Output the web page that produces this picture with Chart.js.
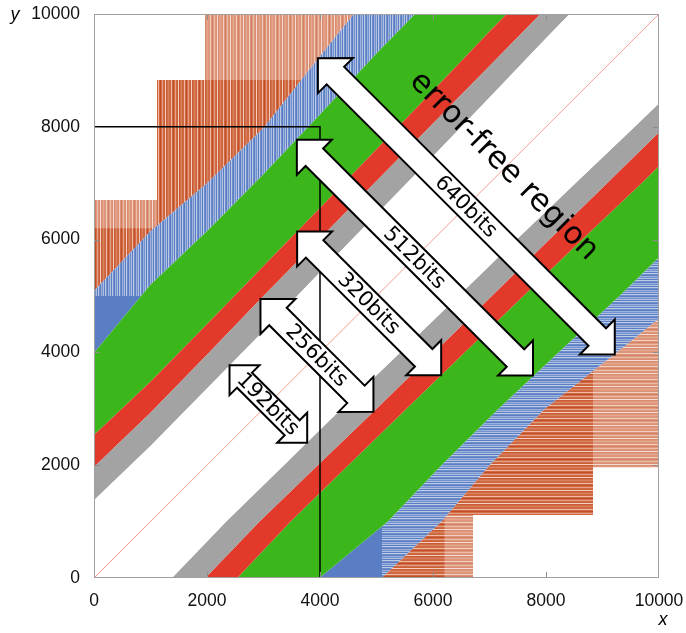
<!DOCTYPE html>
<html>
<head>
<meta charset="utf-8">
<script src="https://cdn.jsdelivr.net/npm/chart.js@4"></script>
<style>
  html, body { margin: 0; padding: 0; background: #fff; }
  #wrap { width: 686px; height: 633px; }
</style>
</head>
<body>
<div id="wrap"><canvas id="bitsChart" width="686" height="633"></canvas></div>
<script>
// positions along the diagonal where the band edges were read (first one sits off-chart so the fills reach the axes)
const tPos         = [-2000, 0, 1000, 2000, 3000, 4000, 5000, 6000, 7000, 8000, 9000, 10000];
// distance |y - x| of each band edge
const grayOffset   = [1380, 1380, 1340, 1360, 1380, 1420, 1450, 1480, 1520, 1570, 1600, 1620];
const redOffset    = [1970, 1970, 1930, 1960, 2000, 2020, 2040, 2060, 2080, 2100, 2120, 2140];
const greenOffset  = [2535, 2535, 2480, 2500, 2530, 2560, 2600, 2640, 2690, 2710, 2730, 2750];
const blueOffset   = [3990, 3990, 4200, 4150, 4160, 4220, 4300, 4320, 4340, 4360, 4380, 4400];
const orangeOffset = [5090, 5090, 5150, 5000, 4980, 5250, 5500, 5650, 5800, 5900, 6000, 6100];

// outer hatched area stops in steps
const stepEdge  = [0, 1115, 1965];
const stepTop   = [6700, 8830, 10000];
const paleFrom  = [6200, 8830];      // paler hatch above these (first and third step)
const stripeFrom = 5000;             // blue band is hatched past this
const stripeTo   = 9000;

// arrows: centre on the diagonal and total span
const arrowLabels = ['192bits', '256bits', '320bits', '512bits', '640bits'];
const arrowCenter = [3086, 3946, 4870, 5680, 6590];
const arrowSpan   = [1375, 2000, 2550, 4180, 5255];

const diagXY  = [0, 10000];
const markerX = [0, 4000, 4000];
const markerY = [8000, 8000, 0];

const xTicks = [0, 2000, 4000, 6000, 8000, 10000];

// hatch patterns
function stripes(colors, vertical) {
    const c = document.createElement('canvas');
    c.width = vertical ? colors.length : 1;
    c.height = vertical ? 1 : colors.length;
    const g = c.getContext('2d');
    colors.forEach((col, i) => {
        g.fillStyle = col;
        if (vertical) g.fillRect(i, 0, 1, 1); else g.fillRect(0, i, 1, 1);
    });
    return g.createPattern(c, 'repeat');
}
const orangeCols = ['#d06a42', '#cf6740', '#eeb9a4', '#cf6740', '#c24c25', '#d36f48', '#e3a084',
                    '#d06a42', '#cb5f37', '#f3cfc0', '#c95a33', '#d36f48', '#d8805c'];
const blueCols = ['rgba(255,255,255,0.6)', 'rgba(255,255,255,0.12)', 'rgba(0,0,0,0)', 'rgba(255,255,255,0.4)',
                  'rgba(255,255,255,0.15)', 'rgba(255,255,255,0.5)', 'rgba(0,0,0,0)'];
const vOrange = stripes(orangeCols, true);
const hOrange = stripes(orangeCols, false);
const vBlue = stripes(blueCols, true);
const hBlue = stripes(blueCols, false);

const GRAY = '#a3a3a3', RED = '#e2392a', GREEN = '#3bb71b', BLUE = '#5a7ec4';
const NONE = 'rgba(0,0,0,0)';

const upper = off => tPos.map((t, i) => ({ x: t, y: t + off[i] }));
const lower = off => tPos.map((t, i) => ({ x: t + off[i], y: t }));
const seg = (x0, x1, yv) => [{ x: x0, y: yv }, { x: x1, y: yv }];

const datasets = [];
function add(data, fill, color) {
    datasets.push({
        data: data, fill: fill, backgroundColor: color,
        borderColor: NONE, borderWidth: 0, pointRadius: 0,
        order: -datasets.length
    });
    return datasets.length - 1;
}

// bottom layer first
const upOrange = add(upper(orangeOffset), 'end', vOrange);
const loOrange = add(lower(orangeOffset), 'start', hOrange);
add(seg(stepEdge[0], stepEdge[1], paleFrom[0]), 'end', 'rgba(255,255,255,0.3)');
add(seg(stepEdge[2], 10000, paleFrom[1]), 'end', 'rgba(255,255,255,0.3)');
add(seg(paleFrom[0], stepTop[0], stepEdge[1]), 'start', 'rgba(255,255,255,0.3)');
add(seg(paleFrom[1], 10000, stepEdge[2]), 'end', 'rgba(255,255,255,0.3)');
add(seg(stepEdge[0], stepEdge[1], stepTop[0]), 'end', '#fff');
add(seg(stepEdge[1], stepEdge[2], stepTop[1]), 'end', '#fff');
add(seg(stepTop[0], 10000, stepEdge[1]), 'start', '#fff');
add(seg(stepTop[1], 10000, stepEdge[2]), 'start', '#fff');
const upBlue = add(upper(blueOffset), upOrange, BLUE);
add(upper(orangeOffset), { target: { value: stripeFrom }, above: vBlue, below: NONE }, vBlue);
const loBlue = add(lower(blueOffset), loOrange, BLUE);
add(lower(orangeOffset).filter(p => p.x >= stripeFrom),
    { target: { value: stripeTo }, above: NONE, below: hBlue }, hBlue);
const upGreen = add(upper(greenOffset), upBlue, GREEN);
const loGreen = add(lower(greenOffset), loBlue, GREEN);
const upRed = add(upper(redOffset), upGreen, RED);
const loRed = add(lower(redOffset), loGreen, RED);
add(upper(grayOffset), upRed, GRAY);
const loGray = add(lower(grayOffset), loRed, GRAY);
add(upper(grayOffset), loGray, '#fff');

datasets.push({
    data: diagXY.map(v => ({ x: v, y: v })), fill: false,
    borderColor: '#f4a08e', borderWidth: 1, pointRadius: 0, order: -datasets.length
});
datasets.push({
    data: markerX.map((v, i) => ({ x: v, y: markerY[i] })), fill: false,
    borderColor: '#000', borderWidth: 1.5, pointRadius: 0, order: -datasets.length
});

function drawArrow(ctx, x1, y1, x2, y2, leg, label) {
    const len = Math.hypot(x2 - x1, y2 - y1);
    const H = leg / Math.SQRT2, s = H / 2;
    ctx.save();
    ctx.translate(x1, y1);
    ctx.rotate(Math.atan2(y2 - y1, x2 - x1));
    ctx.beginPath();
    ctx.moveTo(0, 0);
    ctx.lineTo(H, -H); ctx.lineTo(H, -s); ctx.lineTo(len - H, -s); ctx.lineTo(len - H, -H);
    ctx.lineTo(len, 0);
    ctx.lineTo(len - H, H); ctx.lineTo(len - H, s); ctx.lineTo(H, s); ctx.lineTo(H, H);
    ctx.closePath();
    ctx.fillStyle = '#fff';
    ctx.fill();
    ctx.lineWidth = 2;
    ctx.lineJoin = 'miter';
    ctx.strokeStyle = '#000';
    ctx.stroke();
    ctx.fillStyle = '#000';
    ctx.font = '21px "DejaVu Sans"';
    ctx.textAlign = 'center';
    ctx.textBaseline = 'middle';
    ctx.fillText(label, len / 2, 1);
    ctx.restore();
}

const annotations = {
    id: 'annotations',
    afterDatasetsDraw(chart) {
        const { ctx, chartArea: a, scales: { x, y } } = chart;
        ctx.save();
        // inside tick marks
        ctx.strokeStyle = '#8c8c8c';
        ctx.lineWidth = 1;
        ctx.beginPath();
        xTicks.slice(1, -1).forEach(v => {
            const px = Math.round(x.getPixelForValue(v)) + 0.5;
            const py = Math.round(y.getPixelForValue(v)) + 0.5;
            ctx.moveTo(px, a.bottom); ctx.lineTo(px, a.bottom - 6);
            ctx.moveTo(px, a.top); ctx.lineTo(px, a.top + 6);
            ctx.moveTo(a.left, py); ctx.lineTo(a.left + 6, py);
            ctx.moveTo(a.right, py); ctx.lineTo(a.right - 6, py);
        });
        ctx.stroke();
        // frame
        ctx.strokeStyle = '#a0a0a0';
        ctx.strokeRect(a.left + 0.5, a.top + 0.5, a.right - a.left - 1, a.bottom - a.top - 1);

        arrowCenter.forEach((c, i) => {
            const h = arrowSpan[i] / 2;
            drawArrow(ctx,
                x.getPixelForValue(c - h), y.getPixelForValue(c + h),
                x.getPixelForValue(c + h), y.getPixelForValue(c - h),
                i === 0 ? 30 : 35, arrowLabels[i]);
        });

        // big label
        ctx.save();
        ctx.translate(x.getPixelForValue(7250), y.getPixelForValue(7300));
        ctx.rotate(Math.PI / 4);
        ctx.fillStyle = '#000';
        ctx.font = '31px "DejaVu Sans"';
        ctx.textAlign = 'center';
        ctx.textBaseline = 'middle';
        ctx.fillText('error-free region', 0, 0);
        ctx.restore();

        // axis letters
        ctx.fillStyle = '#000';
        ctx.font = 'italic 18px "Liberation Sans"';
        ctx.textAlign = 'center';
        ctx.textBaseline = 'middle';
        ctx.fillText('y', 15, 15);
        ctx.fillText('x', 663, 620);
        ctx.restore();
    }
};

const tickFont = { family: '"Liberation Sans", Arial, sans-serif', size: 17.5 };

new Chart(document.getElementById('bitsChart'), {
    type: 'line',
    data: { datasets: datasets },
    options: {
        responsive: false,
        animation: false,
        events: [],
        layout: { padding: { top: 14, right: 27, left: 0, bottom: 0 } },
        plugins: { legend: { display: false }, tooltip: { enabled: false } },
        scales: {
            x: {
                type: 'linear', min: 0, max: 10000,
                grid: { display: false, drawTicks: false },
                border: { display: false },
                ticks: { stepSize: 2000, autoSkip: false, maxRotation: 0, padding: 13,
                         color: '#111', font: tickFont, callback: v => String(v) },
                afterFit: s => { s.height = 55; s.paddingLeft = 0; s.paddingRight = 0; }
            },
            y: {
                type: 'linear', min: 0, max: 10000,
                grid: { display: false, drawTicks: false },
                border: { display: false },
                ticks: { stepSize: 2000, autoSkip: false, padding: 14,
                         color: '#111', font: tickFont, callback: v => String(v) },
                afterFit: s => { s.width = 94; s.paddingTop = 0; s.paddingBottom = 0; }
            }
        }
    },
    plugins: [annotations]
});
</script>
</body>
</html>
